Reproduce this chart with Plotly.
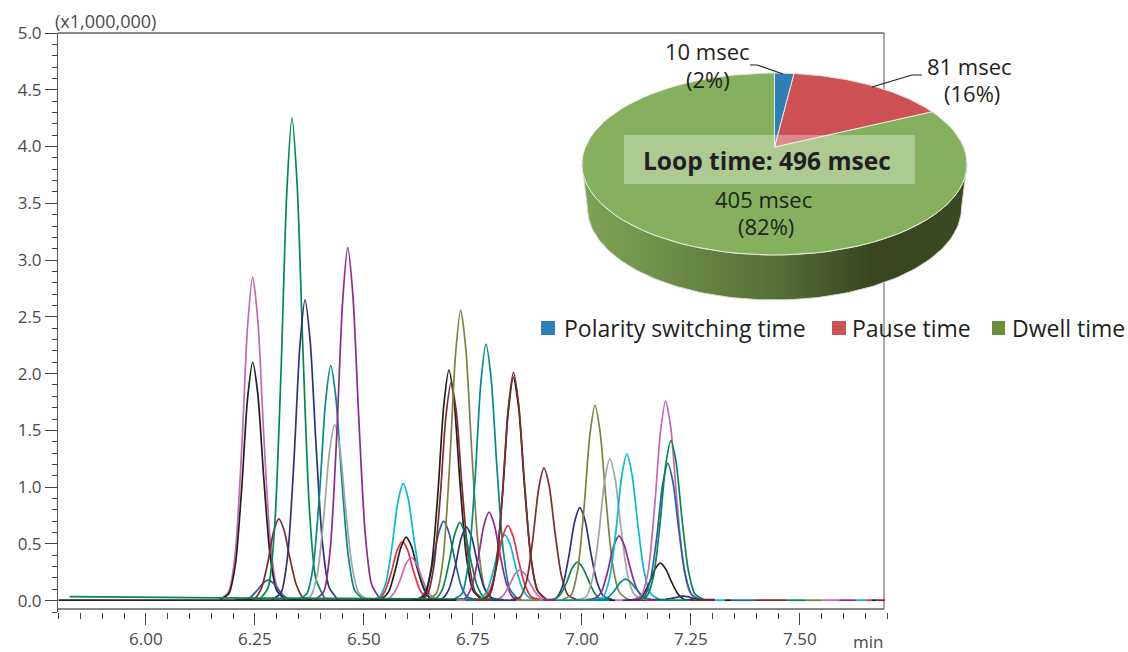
import numpy as np
import plotly.graph_objects as go

W, H = 1128, 652
FONT = "Open Sans"
INK = "#231f20"
AXIS_TXT = "#4a4a4a"

# ---- chromatogram, values (intensity x 1,000,000) ----
SAMPLE_OFFSETS = [-0.075, -0.055, -0.04, -0.025, -0.012, 0.0, 0.012, 0.025, 0.04, 0.055, 0.075]

PINK, BLACK, BLUE, MAROON = "#c868b4", "#231f20", "#2a5caa", "#7f2a2e"
GREEN, NAVY, TEAL, GREY = "#008a4e", "#2e3278", "#008b8b", "#a3a3a3"
PURPLE, CYAN, RED, OLIVE = "#92278f", "#00bcd0", "#ed2a3a", "#808040"

APEX_TIMES = [6.245, 6.245, 6.28, 6.305, 6.335, 6.365, 6.424, 6.433, 6.463, 6.59, 6.588, 6.597, 6.608,
              6.683, 6.695, 6.70, 6.722, 6.72, 6.735, 6.78, 6.787, 6.823, 6.83, 6.843, 6.843, 6.858,
              6.913, 6.995, 6.99, 7.03, 7.064, 7.085, 7.103, 7.10, 7.18, 7.192, 7.197, 7.204, 7.23]
PEAK_COLORS = [PINK, BLACK, BLUE, MAROON, GREEN, NAVY, TEAL, GREY, PURPLE, CYAN, RED, BLACK, PINK,
               BLUE, BLACK, MAROON, OLIVE, GREEN, NAVY, TEAL, PURPLE, CYAN, RED, BLACK, MAROON, PINK,
               MAROON, NAVY, GREEN, OLIVE, GREY, PURPLE, CYAN, TEAL, BLACK, PINK, BLUE, GREEN, NAVY]
PEAK_VALUES = [
    [.01, .08, .42, 1.35, 2.40, 2.85, 2.46, 1.49, .54, .13, .01],
    [.01, .06, .31, 1.00, 1.77, 2.10, 1.81, 1.10, .40, .09, .01],
    [.01, .01, .03, .09, .15, .18, .155, .09, .03, .01, .01],
    [.01, .02, .11, .34, .61, .72, .62, .38, .14, .03, .01],
    [.01, .11, .63, 2.02, 3.58, 4.25, 3.66, 2.23, .81, .19, .02],
    [.01, .07, .39, 1.26, 2.23, 2.65, 2.28, 1.39, .51, .12, .01],
    [.01, .06, .31, .98, 1.75, 2.07, 1.78, 1.08, .40, .09, .01],
    [.01, .04, .23, .74, 1.31, 1.55, 1.34, .81, .30, .07, .01],
    [.01, .08, .46, 1.48, 2.62, 3.11, 2.68, 1.63, .59, .14, .01],
    [.01, .03, .15, .49, .87, 1.03, .89, .54, .20, .05, .01],
    [.01, .01, .08, .25, .44, .52, .45, .27, .10, .02, .01],
    [.01, .02, .08, .27, .47, .56, .48, .29, .11, .02, .01],
    [.01, .01, .06, .18, .32, .38, .33, .20, .07, .02, .01],
    [.01, .02, .10, .33, .59, .70, .60, .37, .13, .03, .01],
    [.01, .05, .30, .96, 1.71, 2.03, 1.75, 1.06, .39, .09, .01],
    [.01, .05, .29, .91, 1.62, 1.92, 1.66, 1.01, .37, .08, .01],
    [.01, .07, .38, 1.22, 2.16, 2.56, 2.21, 1.34, .49, .11, .01],
    [.01, .02, .10, .33, .58, .69, .59, .36, .13, .03, .01],
    [.01, .02, .10, .31, .55, .65, .56, .34, .12, .03, .01],
    [.01, .06, .34, 1.07, 1.91, 2.26, 1.95, 1.18, .43, .10, .01],
    [.01, .02, .12, .37, .66, .78, .67, .41, .15, .03, .01],
    [.01, .02, .09, .28, .49, .58, .50, .30, .11, .03, .01],
    [.01, .02, .10, .31, .56, .66, .57, .35, .13, .03, .01],
    [.01, .05, .29, .94, 1.66, 1.97, 1.70, 1.03, .38, .09, .01],
    [.01, .05, .30, .95, 1.69, 2.01, 1.73, 1.05, .38, .09, .01],
    [.01, .01, .04, .13, .23, .27, .23, .14, .05, .01, .01],
    [.01, .03, .17, .56, .99, 1.17, 1.01, .61, .22, .05, .01],
    [.01, .02, .12, .39, .69, .82, .71, .43, .16, .04, .01],
    [.01, .01, .05, .16, .29, .34, .29, .18, .06, .01, .01],
    [.01, .05, .26, .82, 1.45, 1.72, 1.48, .90, .33, .08, .01],
    [.01, .03, .19, .59, 1.05, 1.25, 1.08, .66, .24, .06, .01],
    [.01, .02, .08, .27, .48, .57, .49, .30, .11, .03, .01],
    [.01, .03, .19, .61, 1.09, 1.29, 1.11, .68, .25, .06, .01],
    [.01, .01, .03, .09, .16, .19, .16, .10, .04, .01, .01],
    [.01, .01, .05, .16, .28, .33, .28, .17, .06, .01, .01],
    [.01, .05, .26, .84, 1.48, 1.76, 1.52, .92, .34, .08, .01],
    [.01, .03, .18, .57, 1.02, 1.21, 1.04, .63, .23, .05, .01],
    [.01, .04, .21, .67, 1.19, 1.41, 1.22, .74, .27, .06, .01],
    [.01, .01, .01, .02, .03, .04, .035, .02, .01, .01, .01],
]

# raised baseline seen behind the peaks
UPPER_BASE_TIMES = [5.825, 5.95, 6.10, 6.25, 6.45, 6.65, 6.82]
UPPER_BASE_VALUES = [.035, .03, .025, .022, .02, .018, .012]

# multicoloured lower baseline: break times and colour of each stretch
BASE_TIMES = [5.80, 6.713, 6.731, 6.754, 6.793, 6.85, 6.91, 6.944, 7.063, 7.077, 7.093, 7.123, 7.148, 7.171,
              7.247, 7.306, 7.327, 7.342, 7.395, 7.471, 7.515, 7.551, 7.59, 7.629, 7.652, 7.664, 7.675, 7.695]
BASE_COLORS = [BLACK, PINK, BLUE, MAROON, NAVY, OLIVE, PURPLE, TEAL, BLACK, PINK, NAVY, MAROON, PURPLE, GREEN,
               MAROON, CYAN, BLACK, BLUE, MAROON, GREEN, OLIVE, PINK, PURPLE, CYAN, RED, BLACK, MAROON]
BASE_LEVEL = 0.004

# ---- pie ----
PIE_NAMES = ["Polarity switching time", "Pause time", "Dwell time"]
PIE_MSEC = [10, 81, 405]
PIE_COLORS = ["#2d7fb5", "#cd5155", "#85b15e"]
LEGEND_COLORS = ["#2d7fb5", "#cd5155", "#6b8e3d"]
LOOP_TEXT = "Loop time: 496 msec"

fig = go.Figure()

# chromatogram traces
for t0, col, vals in zip(APEX_TIMES, PEAK_COLORS, PEAK_VALUES):
    fig.add_trace(go.Scatter(x=np.array(SAMPLE_OFFSETS) + t0, y=vals, mode="lines",
                             line=dict(color=col, width=1.7, shape="spline", smoothing=0.7),
                             hoverinfo="skip"))
fig.add_trace(go.Scatter(x=UPPER_BASE_TIMES, y=UPPER_BASE_VALUES, mode="lines",
                         line=dict(color=GREEN, width=1.6), hoverinfo="skip"))
for i, col in enumerate(BASE_COLORS):
    fig.add_trace(go.Scatter(x=BASE_TIMES[i:i + 2], y=[BASE_LEVEL, BASE_LEVEL], mode="lines",
                             line=dict(color=col, width=1.8), hoverinfo="skip"))

# pseudo-3D pie, built from the slice values on its own hidden axes (1 unit = 1 px)
RX, RY = 192.5, 91.0
APEX_Y = 17.0
PERSPECTIVE = 0.80
WALL_CY, WALL_RX, WALL_RY = -44.0, 187.0, 92.0


def arc(theta0, theta1, n=80):
    th = np.linspace(theta0, theta1, n)
    phi = 2 * np.arctan2(PERSPECTIVE * np.sin(th / 2), np.cos(th / 2))
    return RX * np.sin(phi), RY * np.cos(phi)


phi_low = np.linspace(np.pi / 2, 3 * np.pi / 2, 120)
wx = np.concatenate([RX * np.sin(phi_low), WALL_RX * np.sin(phi_low[::-1])])
wy = np.concatenate([RY * np.cos(phi_low), WALL_CY + WALL_RY * np.cos(phi_low[::-1])])
fig.add_trace(go.Scatter(
    x=np.append(wx, wx[0]), y=np.append(wy, wy[0]), xaxis="x2", yaxis="y2", mode="lines", fill="toself",
    line=dict(color="#d5d9cc", width=1),
    fillgradient=dict(type="horizontal", colorscale=[[0, "#7fa355"], [0.12, "#76994f"], [0.5, "#566f38"],
                                                     [0.76, "#38451f"], [1, "#3b4a22"]]),
    hoverinfo="skip"))

fractions = np.cumsum([0] + PIE_MSEC) / sum(PIE_MSEC)
for i in [2, 1, 0]:
    ax, ay = arc(2 * np.pi * fractions[i], 2 * np.pi * fractions[i + 1])
    fig.add_trace(go.Scatter(x=np.r_[0, ax, 0], y=np.r_[APEX_Y, ay, APEX_Y], xaxis="x2", yaxis="y2",
                             mode="lines", fill="toself", fillcolor=PIE_COLORS[i],
                             line=dict(color="#e6eadf", width=1), hoverinfo="skip"))


def px(x):
    return x / W


def py(y):
    return 1 - y / H


def rect(x0, y0, x1, y1, fill, layer="above"):
    return dict(type="rect", xref="paper", yref="paper", x0=px(x0), x1=px(x1), y0=py(y0), y1=py(y1),
                fillcolor=fill, line_width=0, layer=layer)


def line(x0, y0, x1, y1, color, width, layer="below"):
    return dict(type="line", xref="paper", yref="paper", x0=px(x0), x1=px(x1), y0=py(y0), y1=py(y1),
                line=dict(color=color, width=width), layer=layer)


def path(points, color, width):
    d = "M " + " L ".join(f"{px(a):.5f},{py(b):.5f}" for a, b in points)
    return dict(type="path", xref="paper", yref="paper", path=d, line=dict(color=color, width=width), layer="above")


shapes = [
    line(58, 33, 884, 33, "#8a8a8a", 2),
    line(58, 609, 884, 609, "#8a8a8a", 2),
    line(884, 33, 884, 609, "#555555", 1),
    rect(624, 135, 915, 184, "rgba(255,255,255,0.32)"),
    path([(750, 65), (757, 65), (783, 74)], INK, 1.2),
    path([(922, 75), (912, 75), (872, 87)], INK, 1.2),
    rect(541, 321, 555, 335, LEGEND_COLORS[0]),
    rect(832, 321, 846, 335, LEGEND_COLORS[1]),
    rect(992, 321, 1005, 335, LEGEND_COLORS[2]),
]


def label(x, y, text, size=22, anchor="center", color=INK, bold=False):
    if bold:
        text = f"<b>{text}</b>"
    return dict(xref="paper", yref="paper", x=px(x), y=py(y), text=text, showarrow=False, xanchor=anchor,
                yanchor="middle", font=dict(family=FONT, size=size, color=color))


annotations = [
    label(53, 21, "(x1,000,000)", 18, "left", AXIS_TXT),
    label(868, 641, "min", 17, "center", AXIS_TXT),
    label(707, 51, f"{PIE_MSEC[0]} msec"),
    label(708, 79, "(2%)"),
    label(969, 66, f"{PIE_MSEC[1]} msec"),
    label(972, 93, "(16%)"),
    label(763, 199, f"{PIE_MSEC[2]} msec"),
    label(766, 226, "(82%)"),
    label(767, 160, LOOP_TEXT, 24.5, bold=True),
    label(562, 328, PIE_NAMES[0], 23, "left"),
    label(850, 328, PIE_NAMES[1], 23, "left"),
    label(1010, 328, PIE_NAMES[2], 23, "left"),
]

fig.update_layout(
    width=W, height=H, autosize=False, margin=dict(l=0, r=0, t=0, b=0),
    paper_bgcolor="white", plot_bgcolor="rgba(0,0,0,0)", showlegend=False,
    hovermode=False, shapes=shapes, annotations=annotations,
    xaxis=dict(domain=[px(58), px(888)], range=[5.7985, 7.702], showline=False, showgrid=False, zeroline=False,
               automargin=False, ticks="outside", ticklen=12, tickwidth=1, tickcolor="#444444",
               tickformat=".2f", tickvals=[6.0, 6.25, 6.5, 6.75, 7.0, 7.25, 7.5],
               minor=dict(ticks="outside", ticklen=6, tickwidth=1, tickcolor="#444444", tick0=5.8, dtick=0.05,
                          showgrid=False),
               tickfont=dict(family=FONT, size=17, color=AXIS_TXT), anchor="y"),
    yaxis=dict(domain=[py(612), py(33)], range=[-0.1, 5.0], showline=True, linecolor="#555555", linewidth=1,
               automargin=False, showgrid=False, zeroline=False, ticks="outside", ticklen=12, tickwidth=1,
               tickcolor="#444444", tick0=0, dtick=0.5, tickformat=".1f",
               minor=dict(ticks="outside", ticklen=5, tickwidth=1, tickcolor="#444444", tick0=0, dtick=0.1,
                          showgrid=False),
               tickfont=dict(family=FONT, size=17, color=AXIS_TXT), anchor="x"),
    xaxis2=dict(domain=[px(554.5), px(994.5)], range=[-220, 220], visible=False, anchor="y2", automargin=False),
    yaxis2=dict(domain=[py(320), py(50)], range=[-156, 114], visible=False, anchor="x2", automargin=False),
)

PAGE_RESET = ("document.documentElement.style.overflow='hidden';document.body.style.margin='0';"
              "var d=document.getElementById('{plot_id}');d.style.position='fixed';d.style.left='0';d.style.top='0';")
fig.write_html("out.html", post_script=PAGE_RESET, config={"displayModeBar": False})
